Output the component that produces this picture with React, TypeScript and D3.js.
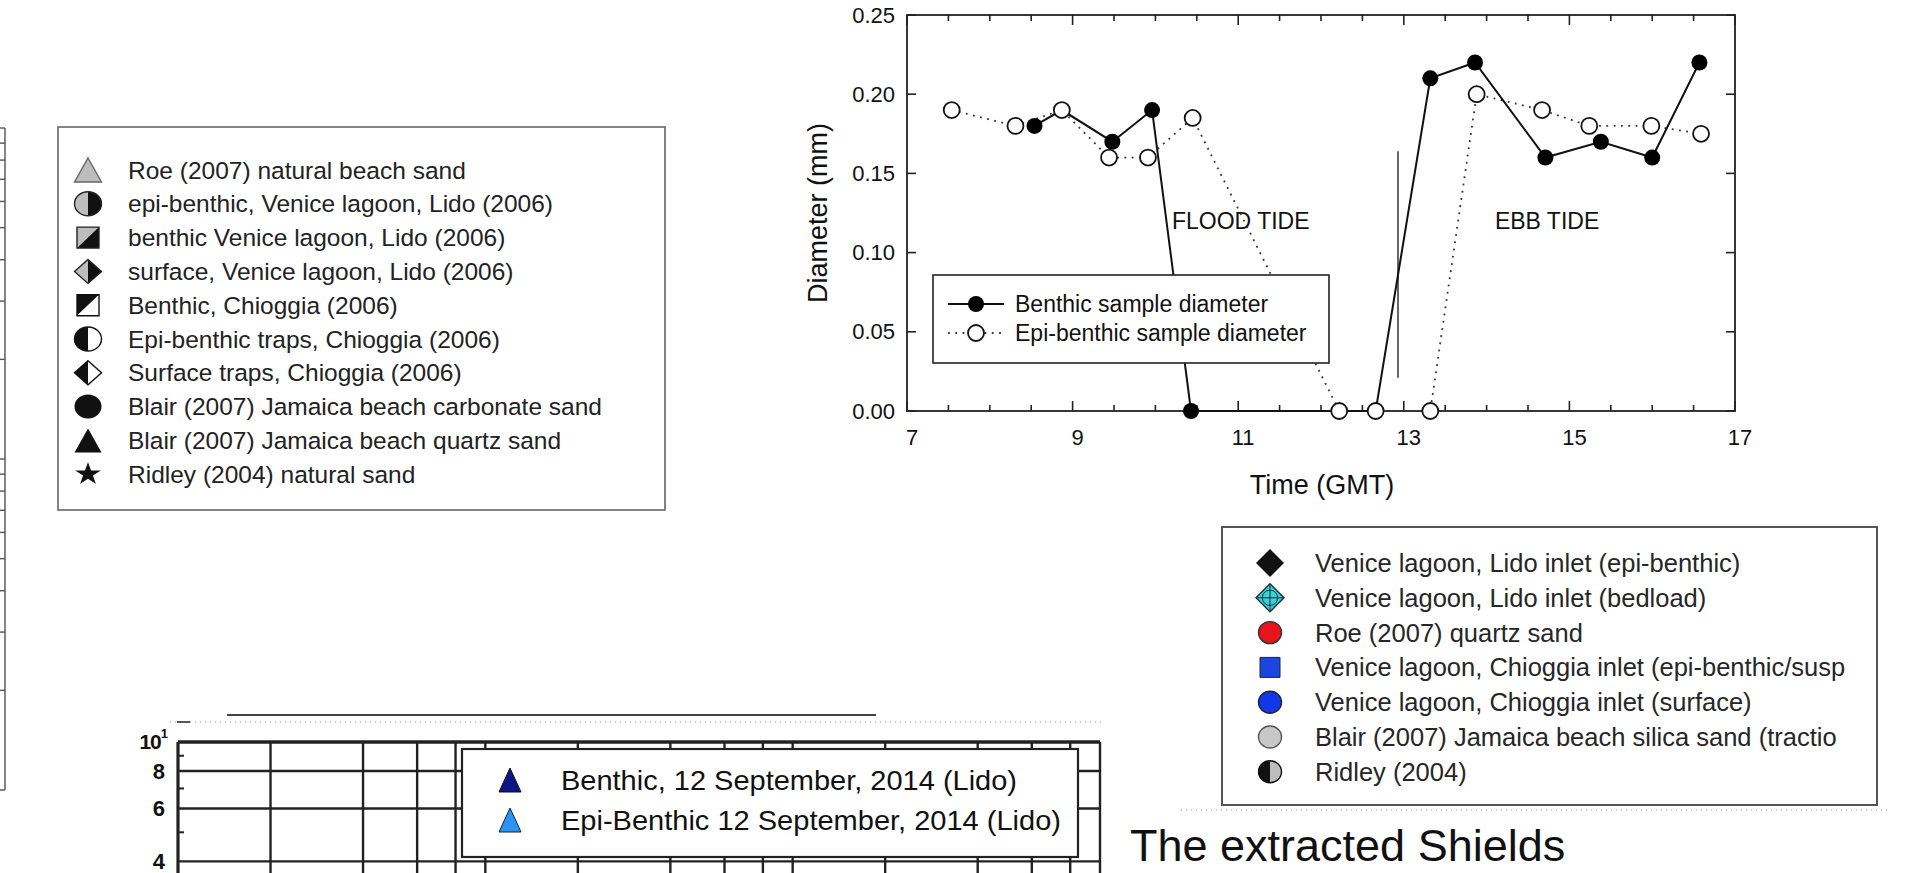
import React from 'react';
import * as d3 from 'd3';

// main panel: grain diameter through the tidal cycle
const timeTicks = [7, 9, 11, 13, 15, 17];
const diamTicks = [0, 0.05, 0.1, 0.15, 0.2, 0.25];
const benthicTime = [8.54, 8.87, 9.48, 9.96, 10.43, 12.66, 13.32, 13.86, 14.71, 15.38, 16.0, 16.57];
const benthicDiam = [0.18, 0.19, 0.17, 0.19, 0, 0, 0.21, 0.22, 0.16, 0.17, 0.16, 0.22];
const epiTime = [7.54, 8.31, 8.87, 9.44, 9.91, 10.45, 12.22, 12.66, 13.32, 13.88, 14.67, 15.24, 15.99, 16.59];
const epiDiam = [0.19, 0.18, 0.19, 0.16, 0.16, 0.185, 0, 0, 0, 0.2, 0.19, 0.18, 0.18, 0.175];
const tideLabels = ['FLOOD TIDE', 'EBB TIDE'];
const tideLabelTime = [10.2, 14.1];
const tideLabelDiam = [0.12, 0.12];
const slackTime = 12.93;
const slackDiam = [0.021, 0.164];
const mainLegend = ['Benthic sample diameter', 'Epi-benthic sample diameter'];

// legends of the other (cropped) figures
const leftLegend = [
  'Roe (2007) natural beach sand',
  'epi-benthic, Venice lagoon, Lido (2006)',
  'benthic Venice lagoon, Lido (2006)',
  'surface, Venice lagoon, Lido (2006)',
  'Benthic, Chioggia (2006)',
  'Epi-benthic traps, Chioggia (2006)',
  'Surface traps, Chioggia (2006)',
  'Blair (2007) Jamaica beach carbonate sand',
  'Blair (2007) Jamaica beach quartz sand',
  'Ridley (2004) natural sand',
];
const rightLegend = [
  'Venice lagoon, Lido inlet (epi-benthic)',
  'Venice lagoon, Lido inlet (bedload)',
  'Roe (2007) quartz sand',
  'Venice lagoon, Chioggia inlet (epi-benthic/susp',
  'Venice lagoon, Chioggia inlet (surface)',
  'Blair (2007) Jamaica beach silica sand (tractio',
  'Ridley (2004)',
];
const bottomLegend = ['Benthic, 12 September, 2014 (Lido)', 'Epi-Benthic 12 September, 2014 (Lido)'];

// cropped log grid (bottom) and cropped axis (left edge)
const gridX = [1, 2, 4, 6, 8, 10, 20, 40, 60, 80, 100, 200, 400, 600, 800, 1000];
const gridY = [10, 8, 6, 4, 2];
const gridYLabels = ['8', '6', '4'];
const gridYLabelVals = [8, 6, 4];
const gridYMinor = [9, 7, 5, 3];
const edgeTicks = [2, 3, 4, 5, 6, 7, 8, 9, 10, 20, 30, 40, 50, 60, 70, 80, 90, 100];
const caption = 'The extracted Shields';

const FONT = "'Liberation Sans', Arial, Helvetica, sans-serif";

const starPath = d3.symbol().type(d3.symbolStar).size(1 / 0.8908130915292852)() as string;

function marker(kind: string, cx: number, cy: number, w: number, h: number, key?: any) {
  const ns = { vectorEffect: 'non-scaling-stroke' } as any;
  const t = `translate(${cx},${cy}) scale(${w / 2},${h / 2})`;
  const leftC = 'M0,-1A1,1 0 0 0 0,1Z';
  const rightC = 'M0,-1A1,1 0 0 1 0,1Z';
  const leftD = 'M0,-1L-1,0L0,1Z';
  const rightD = 'M0,-1L1,0L0,1Z';
  const ulS = 'M-1,-1L1,-1L-1,1Z';
  const lrS = 'M1,-1L1,1L-1,1Z';
  const gray = '#bdbdbd';
  const blk = '#111';
  const sw = 1.4;
  let inner: any = null;
  switch (kind) {
    case 'triGray':
      inner = <path d="M0,-1L1,1L-1,1Z" fill={gray} stroke="#666" strokeWidth={sw} {...ns} />;
      break;
    case 'triBlack':
      inner = <path d="M0,-1L1,1L-1,1Z" fill={blk} />;
      break;
    case 'circHalfGrayBlack':
      inner = (<g><path d={leftC} fill={gray} /><path d={rightC} fill={blk} />
        <circle r={1} fill="none" stroke="#222" strokeWidth={sw} {...ns} /></g>);
      break;
    case 'circBlackWhite':
      inner = (<g><path d={leftC} fill={blk} /><path d={rightC} fill="#fff" />
        <circle r={1} fill="none" stroke="#111" strokeWidth={sw} {...ns} /></g>);
      break;
    case 'circBlackGray':
      inner = (<g><path d={leftC} fill={blk} /><path d={rightC} fill={gray} />
        <circle r={1} fill="none" stroke="#111" strokeWidth={sw} {...ns} /></g>);
      break;
    case 'sqGrayBlack':
      inner = (<g><path d={ulS} fill={gray} /><path d={lrS} fill={blk} />
        <rect x={-1} y={-1} width={2} height={2} fill="none" stroke="#222" strokeWidth={sw} {...ns} /></g>);
      break;
    case 'sqBlackWhite':
      inner = (<g><path d={ulS} fill={blk} /><path d={lrS} fill="#fff" />
        <rect x={-1} y={-1} width={2} height={2} fill="none" stroke="#111" strokeWidth={sw} {...ns} /></g>);
      break;
    case 'diaGrayBlack':
      inner = (<g><path d={leftD} fill={gray} /><path d={rightD} fill={blk} />
        <path d="M0,-1L1,0L0,1L-1,0Z" fill="none" stroke="#222" strokeWidth={sw} {...ns} /></g>);
      break;
    case 'diaBlackWhite':
      inner = (<g><path d={leftD} fill={blk} /><path d={rightD} fill="#fff" />
        <path d="M0,-1L1,0L0,1L-1,0Z" fill="none" stroke="#111" strokeWidth={sw} {...ns} /></g>);
      break;
    case 'diaBlack':
      inner = <path d="M0,-1L1,0L0,1L-1,0Z" fill={blk} />;
      break;
    case 'diaCyan':
      inner = (<g><path d="M0,-1L1,0L0,1L-1,0Z" fill="#3fd0d0" stroke="#134" strokeWidth={sw} {...ns} />
        <circle r={0.55} fill="none" stroke="#134" strokeWidth={1} {...ns} />
        <path d="M-1,0L1,0M0,-1L0,1" stroke="#134" strokeWidth={1} {...ns} /></g>);
      break;
    case 'circBlack':
      inner = <circle r={1} fill={blk} />;
      break;
    case 'circRed':
      inner = <circle r={1} fill="#e8141b" stroke="#333" strokeWidth={sw} {...ns} />;
      break;
    case 'circBlue':
      inner = <circle r={1} fill="#1237e6" stroke="#223" strokeWidth={sw} {...ns} />;
      break;
    case 'circLight':
      inner = <circle r={1} fill="#c8c8c8" stroke="#555" strokeWidth={sw} {...ns} />;
      break;
    case 'sqBlue':
      inner = <rect x={-1} y={-1} width={2} height={2} fill="#1a46e0" stroke="#223" strokeWidth={1} {...ns} />;
      break;
    case 'star':
      inner = <path d={starPath} fill={blk} />;
      break;
    case 'triNavy':
      inner = <path d="M0,-1L1,1L-1,1Z" fill="#0b1585" stroke="#111" strokeWidth={1} {...ns} />;
      break;
    case 'triSky':
      inner = <path d="M0,-1L1,1L-1,1Z" fill="#2a95f5" stroke="#123" strokeWidth={1} {...ns} />;
      break;
  }
  return <g key={key} transform={t}>{inner}</g>;
}

const leftKinds = ['triGray', 'circHalfGrayBlack', 'sqGrayBlack', 'diaGrayBlack', 'sqBlackWhite',
  'circBlackWhite', 'diaBlackWhite', 'circBlack', 'triBlack', 'star'];
const rightKinds = ['diaBlack', 'diaCyan', 'circRed', 'sqBlue', 'circBlue', 'circLight', 'circBlackGray'];
const bottomKinds = ['triNavy', 'triSky'];

export default function App() {
  // ---- main chart scales
  const x = d3.scaleLinear().domain([7, 17]).range([907, 1735]);
  const y = d3.scaleLinear().domain([0, 0.25]).range([411, 15]);
  const minorX = d3.range(7, 17.01, 0.5);
  const benthicPts = benthicTime.map((t, i) => [x(t), y(benthicDiam[i])] as [number, number]);
  const epiPts = epiTime.map((t, i) => [x(t), y(epiDiam[i])] as [number, number]);
  const path = d3.line();

  // ---- bottom cropped log grid
  const gx = d3.scaleLog().domain([1, 1000]).range([178, 1100]);
  const gy = d3.scaleLog().domain([1, 10]).range([1042, 742]);

  // ---- left edge cropped log axis
  const ey = d3.scaleLog().domain([1, 100]).range([790, 128]);

  const axisColor = '#222';
  const bottomLegendWidth = [456, 500];

  return (
    <svg width={1905} height={873} style={{ position: 'absolute', left: 0, top: 0, background: '#fff' }}
      fontFamily={FONT}>
      <rect width={1905} height={873} fill="#fff" />

      {/* left edge: fragment of another plot */}
      <line x1={5} x2={5} y1={ey(1)} y2={ey(100)} stroke="#666" strokeWidth={1.6} />
      {edgeTicks.map((v, i) => (
        <line key={i} x1={0} x2={5} y1={ey(v)} y2={ey(v)} stroke="#555" strokeWidth={1.4} />
      ))}
      <line x1={0} x2={5} y1={ey(1)} y2={ey(1)} stroke="#666" strokeWidth={1.6} />

      {/* left legend */}
      <rect x={58} y={127} width={607} height={383} fill="#fff" stroke="#666" strokeWidth={1.6} />
      {leftLegend.map((s, i) => {
        const cy = 170 + 33.8 * i;
        const sq = leftKinds[i].startsWith('sq');
        return (
          <g key={i}>
            {marker(leftKinds[i], 88, cy, sq ? 22 : 27, sq ? 21 : 24)}
            <text x={128} y={cy} dominantBaseline="central" fontSize={24.5} fill="#222">{s}</text>
          </g>
        );
      })}

      {/* main chart */}
      <g>
        <rect x={x(7)} y={y(0.25)} width={x(17) - x(7)} height={y(0) - y(0.25)} fill="none"
          stroke={axisColor} strokeWidth={1.8} />
        {minorX.map((v, i) => {
          const major = Math.abs((v - 7) % 2) < 1e-6;
          const len = major ? 10 : 6;
          return (
            <g key={i}>
              <line x1={x(v)} x2={x(v)} y1={y(0)} y2={y(0) - len} stroke={axisColor} strokeWidth={1.6} />
              <line x1={x(v)} x2={x(v)} y1={y(0.25)} y2={y(0.25) + len} stroke={axisColor} strokeWidth={1.6} />
            </g>
          );
        })}
        {diamTicks.map((v, i) => (
          <g key={i}>
            <line x1={x(7)} x2={x(7) + 9} y1={y(v)} y2={y(v)} stroke={axisColor} strokeWidth={1.6} />
            <line x1={x(17)} x2={x(17) - 9} y1={y(v)} y2={y(v)} stroke={axisColor} strokeWidth={1.6} />
            <text x={x(7) - 12} y={y(v)} textAnchor="end" dominantBaseline="central" fontSize={22} fill="#111">
              {v.toFixed(2)}
            </text>
          </g>
        ))}
        {timeTicks.map((v, i) => (
          <text key={i} x={x(v) + 5} y={437} textAnchor="middle" dominantBaseline="central" fontSize={22} fill="#111">
            {v}
          </text>
        ))}
        <text x={1322} y={485} textAnchor="middle" dominantBaseline="central" fontSize={27} fill="#111">Time (GMT)</text>
        <text transform={`translate(818,${(y(0) + y(0.25)) / 2}) rotate(-90)`} x={0} y={0} textAnchor="middle"
          dominantBaseline="central" fontSize={27} fill="#111">Diameter (mm)</text>

        {tideLabels.map((s, i) => (
          <text key={i} x={x(tideLabelTime[i])} y={y(tideLabelDiam[i])} dominantBaseline="central"
            fontSize={23} fill="#111">{s}</text>
        ))}
        <line x1={x(slackTime)} x2={x(slackTime)} y1={y(slackDiam[0])} y2={y(slackDiam[1])}
          stroke="#333" strokeWidth={1.5} />

        <path d={path(epiPts) as string} fill="none" stroke="#333" strokeWidth={1.8} strokeDasharray="1.8,5.5" />
        <path d={path(benthicPts) as string} fill="none" stroke="#111" strokeWidth={2} />
        {benthicPts.map((p, i) => <circle key={i} cx={p[0]} cy={p[1]} r={8} fill="#000" />)}
        {epiPts.map((p, i) => <circle key={i} cx={p[0]} cy={p[1]} r={8} fill="#fff" stroke="#111" strokeWidth={1.8} />)}

        {/* legend */}
        <rect x={933} y={275} width={396} height={88} fill="#fff" stroke={axisColor} strokeWidth={1.6} />
        <line x1={948} x2={1004} y1={304} y2={304} stroke="#111" strokeWidth={2} />
        <circle cx={976} cy={304} r={8} fill="#000" />
        <line x1={948} x2={1004} y1={333} y2={333} stroke="#333" strokeWidth={1.8} strokeDasharray="1.8,5.5" />
        <circle cx={976} cy={333} r={8} fill="#fff" stroke="#111" strokeWidth={1.8} />
        {mainLegend.map((s, i) => (
          <text key={i} x={1015} y={304 + 29 * i} dominantBaseline="central" fontSize={23} fill="#111">{s}</text>
        ))}
      </g>

      {/* right legend */}
      <rect x={1222} y={527} width={655} height={278} fill="#fff" stroke="#555" strokeWidth={2} />
      {rightLegend.map((s, i) => {
        const cy = 563 + 34.8 * i;
        const k = rightKinds[i];
        const w = k.startsWith('dia') ? 28 : k === 'sqBlue' ? 20 : 23;
        const h = k.startsWith('dia') ? 28 : k === 'sqBlue' ? 20 : 22;
        return (
          <g key={i}>
            {marker(k, 1270, cy, w, h)}
            <text x={1315} y={cy} dominantBaseline="central" fontSize={25.5} fill="#262626">{s}</text>
          </g>
        );
      })}
      <line x1={1181} x2={1891} y1={810} y2={810} stroke="#888" strokeWidth={1.2} strokeDasharray="1,4" />

      {/* bottom cropped chart */}
      <line x1={227} x2={876} y1={715} y2={715} stroke="#444" strokeWidth={2} />
      <line x1={170} x2={1102} y1={722} y2={722} stroke="#999" strokeWidth={1.2} strokeDasharray="1,4" />
      <line x1={177} x2={190} y1={722} y2={722} stroke="#555" strokeWidth={2} />
      {gridX.map((v, i) => (
        <line key={i} x1={gx(v)} x2={gx(v)} y1={gy(10)} y2={873} stroke="#222" strokeWidth={i === 0 ? 3.2 : 2.4} />
      ))}
      {gridY.map((v, i) => (
        <line key={i} x1={gx(1)} x2={gx(1000)} y1={gy(v)} y2={gy(v)} stroke="#222" strokeWidth={i === 0 ? 3.4 : 2.4} />
      ))}
      {gridYMinor.map((v, i) => (
        <line key={i} x1={gx(1)} x2={gx(1) + 6} y1={gy(v)} y2={gy(v)} stroke="#222" strokeWidth={2} />
      ))}
      <text x={167} y={gy(10) - 1} textAnchor="end" dominantBaseline="central" fontSize={21} fontWeight="bold"
        fill="#111" letterSpacing={-1}>
        10<tspan dy={-8} fontSize={13}>1</tspan>
      </text>
      {gridYLabels.map((s, i) => (
        <text key={i} x={165} y={gy(gridYLabelVals[i])} textAnchor="end" dominantBaseline="central" fontSize={22}
          fontWeight="bold" fill="#111">{s}</text>
      ))}
      <rect x={462} y={749} width={616} height={108} fill="#fff" stroke="#222" strokeWidth={2.2} />
      {bottomLegend.map((s, i) => {
        const cy = 780 + 40 * i;
        return (
          <g key={i}>
            {marker(bottomKinds[i], 510, cy, 22, 24)}
            <text x={561} y={cy} dominantBaseline="central" fontSize={28} fill="#111"
              textLength={bottomLegendWidth[i]} lengthAdjust="spacingAndGlyphs">{s}</text>
          </g>
        );
      })}

      <text x={1130} y={861} fontSize={45} fill="#111">{caption}</text>
    </svg>
  );
}
